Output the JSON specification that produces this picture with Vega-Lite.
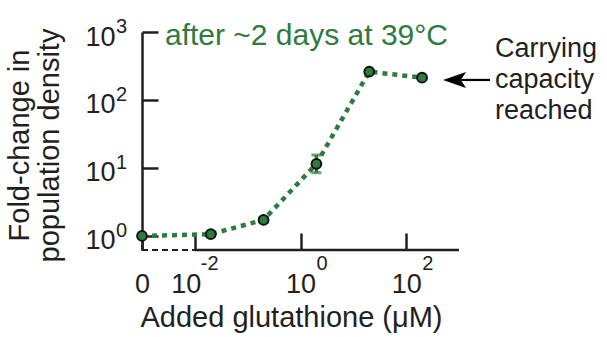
{
  "$schema": "https://vega.github.io/schema/vega-lite/v6.json",
  "width": 317,
  "height": 218,
  "autosize": {"type": "none"},
  "padding": {"left": 142, "top": 32, "right": 148, "bottom": 87},
  "background": "white",
  "config": {
    "view": {"stroke": null},
    "font": "Liberation Sans",
    "axis": {
      "grid": false,
      "domainColor": "#231f20",
      "domainWidth": 2.5,
      "tickColor": "#231f20",
      "tickWidth": 2.5,
      "labelColor": "#231f20",
      "titleColor": "#231f20",
      "labelFont": "Liberation Sans",
      "titleFont": "Liberation Sans",
      "titleFontWeight": "normal",
      "labelOverlap": false,
      "labelFlush": false,
      "labelBound": false
    }
  },
  "datasets": {
    "points": [
      {"conc": 0.001, "conc_label": "0", "fold": 1.0, "lo": 0.96, "hi": 1.04},
      {"conc": 0.02, "conc_label": "0.02", "fold": 1.06, "lo": 1.0, "hi": 1.12},
      {"conc": 0.2, "conc_label": "0.2", "fold": 1.72, "lo": 1.58, "hi": 1.86},
      {"conc": 2, "conc_label": "2", "fold": 11.5, "lo": 8.5, "hi": 15.5},
      {"conc": 20, "conc_label": "20", "fold": 261, "lo": 250, "hi": 272},
      {"conc": 200, "conc_label": "200", "fold": 213, "lo": 203, "hi": 223}
    ],
    "yexp": [
      {"v": 1, "e": "0"},
      {"v": 10, "e": "1"},
      {"v": 100, "e": "2"},
      {"v": 1000, "e": "3"}
    ],
    "xexp": [
      {"v": 1, "e": "0"},
      {"v": 100, "e": "2"}
    ],
    "xexpneg": [
      {"v": 0.01, "e": "-2"}
    ],
    "one": [{}]
  },
  "layer": [
    {
      "data": {"name": "points"},
      "mark": {"type": "line", "color": "#2d7b3f", "strokeWidth": 4.5, "strokeDash": [5, 5]},
      "encoding": {
        "x": {
          "field": "conc", "type": "quantitative",
          "scale": {"type": "log", "domain": [0.001, 1000], "nice": false},
          "axis": {
            "values": [0.001, 0.01, 1, 100],
            "labelExpr": "datum.value < 0.005 ? '0' : '10'",
            "tickSize": -17,
            "domain": false,
            "labelPadding": 59,
            "labelFontSize": 27,
            "labelBaseline": "alphabetic",
            "labelAlign": "center",
            "labelOffset": {"condition": {"test": "datum.value > 0.005 && datum.value < 0.05", "value": -9}, "value": 0},
            "title": "Added glutathione (μM)",
            "titleFontSize": 29,
            "titleX": 149,
            "titleY": 76,
            "titleBaseline": "alphabetic",
            "titleAlign": "center",
            "titleAnchor": null
          }
        },
        "y": {
          "field": "fold", "type": "quantitative",
          "scale": {"type": "log", "domain": [0.62, 1000], "nice": false},
          "axis": {
            "values": [1, 10, 100, 1000],
            "labelExpr": "'10'",
            "tickSize": -16,
            "labelPadding": 43,
            "labelFontSize": 27,
            "labelAlign": "right",
            "labelBaseline": "alphabetic",
            "labelOffset": 13,
            "title": ["Fold-change in", "population density"],
            "titleFontSize": 29,
            "titleLineHeight": 30,
            "titleAngle": -90,
            "titleX": -137,
            "titleY": 113,
            "titleAlign": "center",
            "titleBaseline": "top"
          }
        }
      }
    },
    {
      "data": {"name": "one"},
      "mark": {"type": "rule", "color": "#231f20", "strokeWidth": 2.5},
      "encoding": {
        "x": {"datum": 0.01, "type": "quantitative"},
        "x2": {"datum": 1000},
        "y": {"datum": 0.62, "type": "quantitative"}
      }
    },
    {
      "data": {"name": "one"},
      "mark": {"type": "rule", "color": "#231f20", "strokeWidth": 2, "strokeDash": [6, 4]},
      "encoding": {
        "x": {"datum": 0.001, "type": "quantitative"},
        "x2": {"datum": 0.01},
        "y": {"datum": 0.62, "type": "quantitative"}
      }
    },
    {
      "data": {"name": "points"},
      "mark": {"type": "rule", "color": "#2d7b3f", "strokeWidth": 3.5},
      "encoding": {
        "x": {"field": "conc", "type": "quantitative"},
        "y": {"field": "lo", "type": "quantitative"},
        "y2": {"field": "hi"}
      }
    },
    {
      "data": {"name": "points"},
      "mark": {"type": "tick", "orient": "horizontal", "color": "#2d7b3f", "thickness": 3, "size": 10},
      "encoding": {
        "x": {"field": "conc", "type": "quantitative"},
        "y": {"field": "lo", "type": "quantitative"}
      }
    },
    {
      "data": {"name": "points"},
      "mark": {"type": "tick", "orient": "horizontal", "color": "#2d7b3f", "thickness": 3, "size": 10},
      "encoding": {
        "x": {"field": "conc", "type": "quantitative"},
        "y": {"field": "hi", "type": "quantitative"}
      }
    },
    {
      "data": {"name": "points"},
      "mark": {"type": "point", "shape": "circle", "filled": true, "fill": "#2d7b3f", "stroke": "#111111", "strokeWidth": 2, "size": 95, "opacity": 1},
      "encoding": {
        "x": {"field": "conc", "type": "quantitative"},
        "y": {"field": "fold", "type": "quantitative"}
      }
    },
    {
      "data": {"name": "yexp"},
      "mark": {"type": "text", "align": "left", "baseline": "alphabetic", "dx": -26, "dy": 1, "fontSize": 20, "color": "#231f20"},
      "encoding": {
        "x": {"datum": 0.001, "type": "quantitative"},
        "y": {"field": "v", "type": "quantitative"},
        "text": {"field": "e"}
      }
    },
    {
      "data": {"name": "xexp"},
      "mark": {"type": "text", "align": "left", "baseline": "alphabetic", "dx": 16, "dy": 20, "fontSize": 20, "color": "#231f20"},
      "encoding": {
        "x": {"field": "v", "type": "quantitative"},
        "y": {"datum": 0.62, "type": "quantitative"},
        "text": {"field": "e"}
      }
    },
    {
      "data": {"name": "xexpneg"},
      "mark": {"type": "text", "align": "left", "baseline": "alphabetic", "dx": 6, "dy": 20, "fontSize": 20, "color": "#231f20"},
      "encoding": {
        "x": {"field": "v", "type": "quantitative"},
        "y": {"datum": 0.62, "type": "quantitative"},
        "text": {"field": "e"}
      }
    },
    {
      "data": {"name": "one"},
      "mark": {"type": "text", "align": "left", "baseline": "alphabetic", "fontSize": 30, "color": "#2d7b3f", "text": "after ~2 days at 39°C"},
      "encoding": {
        "x": {"datum": 0.00272, "type": "quantitative"},
        "y": {"datum": 644, "type": "quantitative"}
      }
    },
    {
      "data": {"name": "one"},
      "mark": {"type": "rule", "color": "#000000", "strokeWidth": 2.2},
      "encoding": {
        "x": {"datum": 1100, "type": "quantitative"},
        "x2": {"datum": 3865},
        "y": {"datum": 197, "type": "quantitative"}
      }
    },
    {
      "data": {"name": "one"},
      "mark": {"type": "point", "shape": "M -1 0 L 1 -0.7 L 0.55 0 L 1 0.7 Z", "filled": true, "fill": "#000000", "strokeWidth": 0, "size": 529, "opacity": 1},
      "encoding": {
        "x": {"datum": 822, "type": "quantitative"},
        "y": {"datum": 197, "type": "quantitative"}
      }
    },
    {
      "data": {"name": "one"},
      "mark": {"type": "text", "align": "left", "baseline": "alphabetic", "fontSize": 27, "lineHeight": 31, "color": "#231f20", "text": ["Carrying", "capacity", "reached"]},
      "encoding": {
        "x": {"datum": 4810, "type": "quantitative"},
        "y": {"datum": 428, "type": "quantitative"}
      }
    }
  ]
}
